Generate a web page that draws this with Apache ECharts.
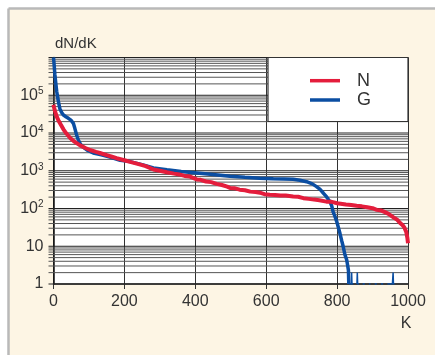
<!DOCTYPE html>
<html><head><meta charset="utf-8">
<script src="https://cdn.jsdelivr.net/npm/echarts@6/dist/echarts.min.js"></script>
<style>html,body{margin:0;padding:0;background:#fff}#c{width:435px;height:355px}</style>
</head><body><div id="c"></div>
<script>
// ---- data ----
const xTicks = [0, 200, 400, 600, 800, 1000];
const yTickLabels = ['1', '10', '10^2', '10^3', '10^4', '10^5', ''];
const seriesNames = ['N', 'G'];

const nK = [0,2,4,7,10,14,20,28,36,47,60,75,90,103,120,131,150,165,178,200,216,240,260,282,300,320,340,355,370,385,404,415,430,445,460,475,490,498,510,525,540,555,570,582,595,610,625,640,655,676,690,705,720,735,750,770,785,800,810,825,840,855,870,885,900,912,925,935,945,955,963,970,977,985,990,995,998,1000];
const nV = [56000,46000,39000,31000,26000,21500,17000,12500,9800,7400,5800,4700,4000,3550,3150,2950,2600,2350,2150,1900,1720,1500,1330,1080,1000,910,840,800,730,700,590,575,520,500,450,420,380,350,345,315,305,280,272,262,240,232,228,220,222,208,205,188,180,172,166,152,150,138,134,128,124,118,114,108,102,92,88,80,72,62,55,50,42,36,31,24,17,12];

const gK = [0,1,2,3,4,6,9,12,15,18,23,28,35,42,50,56,60,65,70,75,80,84,95,112,135,159,188,216,250,282,320,360,404,450,498,540,582,620,650,676,695,714,730,742,752,761,770,775,780,785,789,794,799,803,808,813,817,822,827,830,832,833];
const gV = [1000000,800000,600000,450000,350000,230000,128000,85000,60000,44000,35000,30000,27000,24500,21500,18000,13500,9000,6500,5300,4500,4000,3500,2950,2650,2300,1900,1750,1450,1180,1060,950,870,790,710,670,635,615,605,595,560,513,450,380,320,257,205,175,150,115,80,62,45,33,22,14,10,6,4.4,3,2.3,1];

const gTailK = [833,840,841,841,842,846,849,856,857,858,862,866,872,878,884,890,894,900,906,912,918,924,930,936,942,948,956,958,958,959,962];
const gTailV = [1,1,1,2,1,1,'-',1,2,1,1,'-',1,1,'-',1,1,'-',1,1,'-',1,1,'-',1,1,1,1,2,1,1];

// ---- build ----
const zip = (a, b) => a.map((k, i) => [k, b[i]]);
const RED = '#e41d3c', BLUE = '#0b4ea2';
const FONT = "'Liberation Sans', Arial, sans-serif";
const NARROW = "'Liberation Sans Narrow', 'Liberation Sans', Arial, sans-serif";

const gridVals = [];
for (let e = 0; e <= 5; e++) for (let m = 1; m <= 9; m++) gridVals.push([0, m * Math.pow(10, e), m === 1 ? 1 : 0]);
gridVals.push([0, 1e6, 1]);

const chart = echarts.init(document.getElementById('c'), null, {renderer: 'canvas'});
chart.setOption({
  animation: false,
  backgroundColor: '#ffffff',
  graphic: [
    {type: 'rect', shape: {x: 8, y: 8, width: 440, height: 360}, style: {fill: '#fdf5e4'}, z: -10, silent: true},
    {type: 'line', shape: {x1: 8.5, y1: 8.5, x2: 440, y2: 8.5}, style: {stroke: '#b9b9b9', lineWidth: 2.5}, z: -9},
    {type: 'line', shape: {x1: 8.5, y1: 8.5, x2: 8.5, y2: 360}, style: {stroke: '#b9b9b9', lineWidth: 2.5}, z: -9},
    {type: 'rect', shape: {x: 53.5, y: 57.5, width: 354.5, height: 226.5}, style: {fill: '#fff'}, z: -8},
    {type: 'rect', shape: {x: 268, y: 57.5, width: 140, height: 64}, style: {fill: '#fff', stroke: '#333', lineWidth: 1.2}, z: 3},
    {type: 'text', x: 55, y: 44, style: {text: 'dN/dK', font: '15px ' + FONT, fill: '#333', verticalAlign: 'middle'}, z: 5},
    {type: 'text', x: 406, y: 324, style: {text: 'K', font: '16px ' + FONT, fill: '#333', align: 'center', verticalAlign: 'middle'}, z: 5}
  ],
  legend: {
    data: seriesNames,
    orient: 'vertical',
    left: 310, top: 71.7,
    padding: 0,
    itemWidth: 30, itemHeight: 3.5, itemGap: 1.3,
    icon: 'rect',
    textStyle: {fontFamily: NARROW, fontSize: 18, lineHeight: 18, color: '#333', padding: [0, 0, 0, 12]},
    z: 6
  },
  grid: {left: 53.5, top: 57.5, width: 354.5, height: 226.5, show: false},
  xAxis: {
    type: 'value', min: 0, max: 1000, interval: 200,
    axisLine: {lineStyle: {color: '#222', width: 1.5}},
    axisTick: {show: true, length: 5, lineStyle: {color: '#333', width: 1}},
    axisLabel: {fontFamily: FONT, fontSize: 16, color: '#333', margin: 10, formatter: v => xTicks.includes(v) ? String(v) : ''},
    splitLine: {show: true, lineStyle: {color: '#333', width: 1}}
  },
  yAxis: {
    type: 'log', logBase: 10, min: 1, max: 1e6, interval: 1,
    axisLine: {show: true, lineStyle: {color: '#111', width: 1.5}},
    axisTick: {show: false},
    splitLine: {show: false},
    axisLabel: {
      margin: 10, color: '#333',
      formatter: v => {
        const e = Math.round(Math.log10(v));
        const t = yTickLabels[e] || '';
        if (t.indexOf('^') >= 0) { const p = t.split('^'); return '{b|' + p[0] + '}{s|' + p[1] + '}'; }
        return t ? '{b|' + t + '}' : '';
      },
      rich: {
        b: {fontFamily: FONT, fontSize: 16, lineHeight: 18, color: '#333'},
        s: {fontFamily: FONT, fontSize: 10, lineHeight: 11, verticalAlign: 'top', color: '#333'}
      }
    }
  },
  series: [
    {
      type: 'custom', name: 'grid', silent: true, z: 1, clip: false,
      data: gridVals,
      renderItem: (params, api) => {
        const v = api.value(1), major = api.value(2);
        const p1 = api.coord([0, v]), p2 = api.coord([1000, v]);
        return {type: 'line', shape: {x1: p1[0] - 5, y1: p1[1], x2: p2[0], y2: p2[1]},
          style: {stroke: major ? '#222' : '#555', lineWidth: 1}};
      }
    },
    {name: 'G', type: 'line', data: zip(gK, gV), showSymbol: false, symbol: 'none', z: 3,
      lineStyle: {color: BLUE, width: 3.5}, itemStyle: {color: BLUE}},
    {name: 'Gtail', type: 'line', data: zip(gTailK, gTailV), showSymbol: false, symbol: 'none', z: 3,
      lineStyle: {color: BLUE, width: 1.5}, itemStyle: {color: BLUE}},
    {name: 'N', type: 'line', data: zip(nK, nV), showSymbol: false, symbol: 'none', z: 4,
      lineStyle: {color: RED, width: 4}, itemStyle: {color: RED}}
  ]
});
</script>
</body></html>
